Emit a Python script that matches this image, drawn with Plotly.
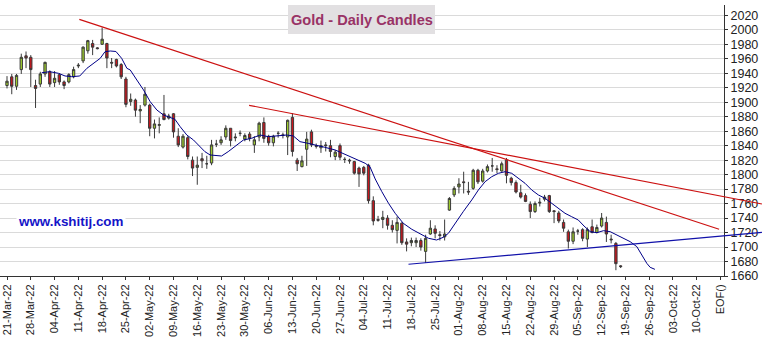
import plotly.graph_objects as go

# ---------------- data ----------------
# trading-day index 0 = 21-Mar-22
opens = [1923,1935,1922,1945,1964,1962,1923,1925,1939,1942,
         1927,1938,1928,1928,1935,1950,1957,1971,1981,1975,
         1980,1981,1955,1959,1952,1932,1901,1903,1888,1896,
         1896,1864,1868,1884,1878,1884,1853,1838,1851,1820,
         1810,1822,1815,1816,1842,1844,1852,1864,1852,1857,
         1849,1856,1841,1852,1872,1853,1844,1857,1855,1852,
         1879,1820,1811,1835,1859,1840,1837,1841,1840,1825,
         1840,1821,1820,1818,1809,1810,1813,1764,1738,1738,
         1740,1730,1723,1733,1707,1706,1706,1709,1694,1718,
         1725,1717,1714,1751,1772,1783,1790,1777,1781,1806,
         1791,1805,1812,1808,1805,1820,1795,1789,1775,1771,
         1759,1749,1762,1766,1771,1750,1747,1734,1721,1708,
         1722,1724,1711,1728,1720,1729,1734,1711,1705,1674]
highs = [1936,1939,1939,1967,1970,1965,1931,1942,1956,1944,
         1943,1940,1930,1940,1949,1954,1977,1986,1986,1976,
         2003,1982,1961,1960,1954,1935,1912,1905,1896,1921,
         1898,1876,1879,1910,1884,1885,1864,1856,1853,1825,
         1825,1830,1826,1848,1848,1853,1868,1864,1857,1861,
         1857,1859,1853,1873,1879,1855,1855,1860,1858,1876,
         1885,1823,1826,1859,1862,1843,1847,1845,1848,1834,
         1843,1824,1822,1819,1811,1812,1815,1770,1743,1750,
         1744,1737,1742,1734,1712,1713,1713,1712,1717,1737,
         1730,1722,1738,1769,1784,1795,1804,1790,1808,1808,
         1808,1814,1823,1813,1818,1823,1797,1792,1786,1774,
         1763,1763,1768,1772,1772,1751,1750,1738,1724,1727,
         1725,1726,1727,1738,1731,1747,1742,1717,1707,1675]
lows = [1919,1911,1917,1939,1947,1921,1892,1921,1935,1921,
        1921,1924,1918,1926,1933,1947,1954,1967,1965,1973,
        1979,1947,1947,1948,1932,1893,1895,1880,1871,1894,
        1853,1850,1857,1875,1876,1851,1838,1836,1821,1798,
        1786,1809,1808,1813,1838,1841,1848,1839,1846,1853,
        1846,1846,1830,1846,1844,1840,1839,1851,1850,1827,
        1825,1805,1810,1812,1838,1836,1830,1832,1824,1820,
        1820,1816,1815,1800,1783,1799,1760,1730,1735,1726,
        1724,1720,1705,1703,1694,1701,1700,1695,1678,1717,
        1712,1709,1709,1750,1769,1774,1774,1772,1779,1787,
        1789,1803,1804,1802,1804,1788,1785,1774,1767,1762,
        1740,1747,1756,1763,1747,1733,1733,1721,1698,1704,
        1717,1708,1700,1719,1719,1727,1707,1705,1668,1671]
closes = [1929,1922,1937,1962,1961,1945,1919,1939,1955,1925,
          1933,1928,1923,1938,1945,1951,1976,1985,1976,1974,
          1987,1961,1954,1950,1935,1897,1904,1889,1890,1911,
          1864,1870,1869,1876,1881,1859,1841,1853,1825,1809,
          1813,1819,1815,1841,1842,1848,1864,1847,1851,1857,
          1854,1850,1848,1871,1850,1844,1853,1857,1854,1875,
          1832,1815,1819,1849,1841,1839,1840,1840,1832,1831,
          1824,1821,1819,1802,1801,1802,1764,1736,1737,1741,
          1730,1724,1734,1706,1704,1709,1709,1700,1712,1726,
          1719,1716,1718,1767,1781,1787,1789,1776,1806,1790,
          1805,1811,1812,1807,1815,1799,1789,1776,1769,1763,
          1749,1760,1761,1769,1749,1749,1736,1726,1708,1721,
          1722,1712,1724,1720,1727,1740,1718,1710,1677,1673]
day_index = list(range(len(opens)))

# moving-average curve
ma_x = [7.3,9.0,10.8,12.2,13.6,15.3,16.8,18.5,19.6,20.6,21.7,22.9,24.1,25.2,25.9,
        27.3,28.7,30.1,31.5,32.9,34.3,35.3,36.4,37.8,39.2,40.6,41.6,42.7,45.1,46.5,
        48.3,49.7,51.4,53.2,54.9,56.7,58.8,60.2,61.6,63.3,65.1,66.8,69.0,72.8,75.3,
        76.3,77.4,78.8,80.2,81.6,83.3,85.1,87.2,88.6,90.3,91.7,92.8,94.2,95.9,97.7,
        99.1,100.5,101.9,103.3,104.7,106.1,107.5,108.9,110.3,111.7,113.1,114.5,115.9,
        117.3,118.7,120.1,121.3,122.6,124.0,125.4,126.8,128.2,129.6,131.0,132.4,133.4,
        134.5,135.2,136.2]
ma_y = [1940.7,1942.1,1939.9,1936.2,1935.2,1936.2,1946.8,1955.9,1960.6,1969.7,1970.7,
        1970.0,1960.6,1946.8,1944.5,1930.6,1916.9,1900.7,1889.2,1882.3,1879.1,1876.4,
        1866.2,1854.7,1847.8,1838.5,1831.7,1827.1,1825.7,1831.7,1840.9,1847.8,1850.1,
        1854.7,1852.4,1853.3,1854.7,1853.3,1845.5,1843.2,1840.9,1837.7,1834.0,1822.5,
        1815.6,1810.9,1794.0,1776.4,1760.4,1746.6,1732.8,1724.5,1716.6,1712.1,1709.7,
        1713.4,1719.0,1732.8,1748.8,1765.0,1778.8,1790.2,1797.1,1801.8,1804.0,1801.8,
        1794.9,1788.0,1778.8,1771.9,1767.3,1760.4,1753.5,1746.6,1741.9,1737.3,1729.0,
        1721.2,1719.8,1722.6,1721.2,1716.6,1712.1,1707.4,1700.5,1689.0,1677.5,1672.0,
        1669.2]

# trend lines: [start, end] in (day index, price)
res_a_x = [15.2, 149.7]
res_a_y = [2014.4, 1724.5]
res_b_x = [50.9, 158.7]
res_b_y = [1895.7, 1759.4]
sup_x = [84.4, 158.7]
sup_y = [1676.2, 1720.1]

tick_days = [0, 5, 10, 15, 20, 25, 30, 35, 40, 45, 50, 55, 60, 65, 70,
             75, 80, 85, 90, 95, 100, 105, 110, 115, 120, 125, 130, 135, 140, 145, 150]
tick_labels = ["21-Mar-22", "28-Mar-22", "04-Apr-22", "11-Apr-22", "18-Apr-22",
               "25-Apr-22", "02-May-22", "09-May-22", "16-May-22", "23-May-22",
               "30-May-22", "06-Jun-22", "13-Jun-22", "20-Jun-22", "27-Jun-22",
               "04-Jul-22", "11-Jul-22", "18-Jul-22", "25-Jul-22", "01-Aug-22",
               "08-Aug-22", "15-Aug-22", "22-Aug-22", "29-Aug-22", "05-Sep-22",
               "12-Sep-22", "19-Sep-22", "26-Sep-22", "03-Oct-22", "10-Oct-22", "EOF()"]

# ---------------- layout geometry ----------------
W, H = 763, 344
PX_PER_DAY = 4.757
X0_PX = 7.0
AXIS_PX = 724.0
x_lo = -X0_PX / PX_PER_DAY
x_hi_main = (AXIS_PX - X0_PX) / PX_PER_DAY
x_hi_full = (W - X0_PX) / PX_PER_DAY
y_range = [1660, 2034.2]
MT, MB = 5, 68
plot_h = H - MT - MB

FONT = "Arial, Liberation Sans, sans-serif"

fig = go.Figure()

fig.add_trace(go.Candlestick(
    x=day_index, open=opens, high=highs, low=lows, close=closes,
    increasing=dict(fillcolor="#9dcb2e", line=dict(color="#3a3a3a", width=1)),
    decreasing=dict(fillcolor="#c8161d", line=dict(color="#3a3a3a", width=1)),
    whiskerwidth=0, showlegend=False, hoverinfo="skip",
    xaxis="x", yaxis="y"))

fig.add_trace(go.Scatter(
    x=ma_x, y=ma_y, mode="lines", line=dict(color="#000088", width=1),
    showlegend=False, hoverinfo="skip", xaxis="x", yaxis="y"))

for lx, ly, col in [(res_a_x, res_a_y, "#cc1111"),
                    (res_b_x, res_b_y, "#cc1111"),
                    (sup_x, sup_y, "#1111aa")]:
    fig.add_trace(go.Scatter(
        x=lx, y=ly, mode="lines", line=dict(color=col, width=1.2),
        showlegend=False, hoverinfo="skip", xaxis="x2", yaxis="y2"))

fig.update_layout(
    width=W, height=H,
    margin=dict(l=0, r=0, t=MT, b=MB),
    paper_bgcolor="white", plot_bgcolor="rgba(0,0,0,0)",
    font=dict(family=FONT, color="#222222"),
    xaxis=dict(domain=[0, AXIS_PX / W], range=[x_lo, x_hi_main],
               tickmode="array", tickvals=tick_days, ticktext=tick_labels,
               tickangle=-90, tickfont=dict(size=11, color="#222222"),
               ticks="outside", ticklen=3, tickcolor="#333333",
               showline=True, linecolor="#333333", linewidth=1,
               showgrid=False, zeroline=False, rangeslider=dict(visible=False),
               automargin=False, fixedrange=True),
    yaxis=dict(domain=[0, 1], range=y_range, side="right", anchor="x",
               tickmode="linear", dtick=20, tick0=1660,
               tickfont=dict(size=12.5, color="#222222"),
               ticks="outside", ticklen=3, tickcolor="#333333",
               showline=True, linecolor="#333333", linewidth=1,
               showgrid=True, gridcolor="#dadada", gridwidth=1,
               zeroline=False, automargin=False, fixedrange=True),
    xaxis2=dict(domain=[0, 1], range=[x_lo, x_hi_full], anchor="y2",
                visible=False, fixedrange=True),
    yaxis2=dict(domain=[0, 1], range=y_range, anchor="x2",
                visible=False, fixedrange=True),
)

# title box
fig.add_shape(type="rect", xref="paper", yref="paper",
              x0=288 / W, x1=435 / W,
              y0=(H - MB - 34) / plot_h, y1=(H - MB - 5) / plot_h,
              fillcolor="#e2e0e2", line=dict(width=0), layer="above")
fig.add_annotation(xref="paper", yref="paper", x=361.5 / W, y=(H - MB - 19.5) / plot_h,
                   text="<b>Gold - Daily Candles</b>", showarrow=False,
                   font=dict(size=14.6, color="#993366", family=FONT),
                   xanchor="center", yanchor="middle")
fig.add_annotation(xref="paper", yref="paper", x=70.8 / W, y=(H - MB - 221) / plot_h,
                   text="<b>www.kshitij.com</b>", showarrow=False,
                   font=dict(size=13.4, color="#1414c8", family=FONT),
                   bgcolor="white", xanchor="center", yanchor="middle")

fig.write_html("out.html")
